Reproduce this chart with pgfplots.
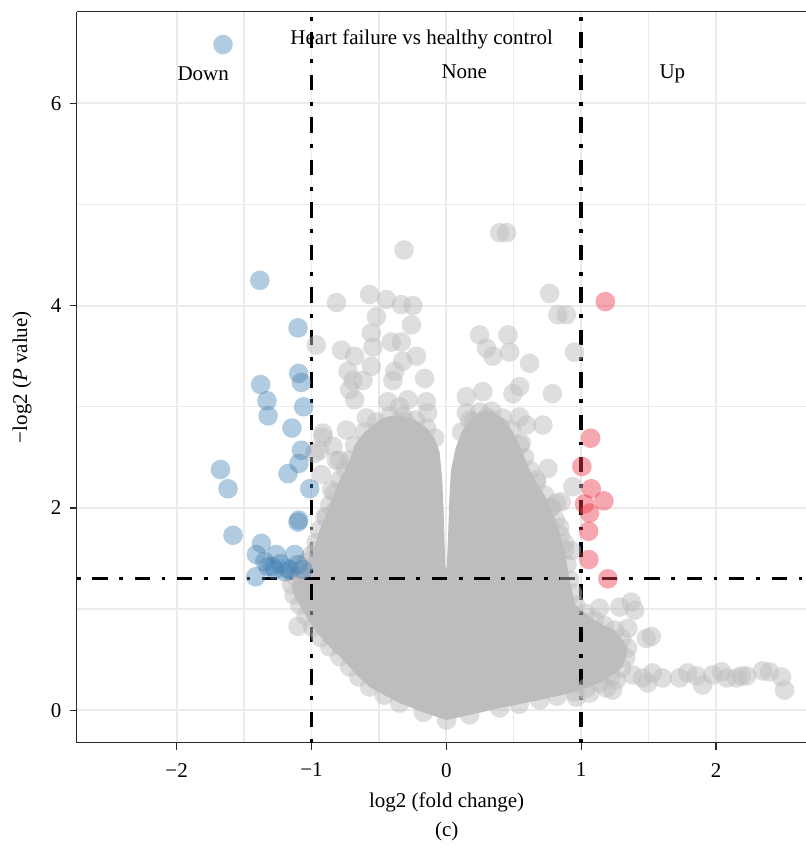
\documentclass[border=0pt]{standalone}
\usepackage{fontspec}
\setmainfont{Liberation Serif}
\usepackage{pgfplots}
\pgfplotsset{compat=1.18}
\definecolor{ptgray}{RGB}{191,188,191}
\definecolor{ptblue}{RGB}{70,130,180}
\definecolor{ptred}{RGB}{238,60,78}
\definecolor{gridc}{RGB}{235,235,235}
\definecolor{axc}{RGB}{40,40,40}

% dense region outline (log2 FC, -log10 P)
\pgfplotstableread{
x y
0.002 -0.096
-0.17 -0.02
-0.346 0.072
-0.46 0.15
-0.569 0.230
-0.65 0.33
-0.717 0.428
-0.79 0.53
-0.865 0.626
-0.93 0.72
-0.991 0.823
-1.04 0.93
-1.087 1.041
-1.13 1.14
-1.147 1.239
-1.12 1.32
-1.087 1.387
-1.04 1.46
-0.998 1.535
-0.965 1.66
-0.939 1.782
-0.90 1.91
-0.865 2.030
-0.83 2.15
-0.791 2.277
-0.75 2.38
-0.717 2.474
-0.680 2.622
-0.606 2.751
-0.517 2.850
-0.420 2.909
-0.324 2.909
-0.228 2.869
-0.146 2.790
-0.087 2.691
-0.050 2.553
-0.030 2.276
-0.018 1.881
-0.008 1.436
0.002 1.387
0.012 1.683
0.022 2.079
0.035 2.375
0.069 2.593
0.113 2.751
0.173 2.869
0.247 2.948
0.336 2.958
0.417 2.889
0.484 2.771
0.543 2.622
0.58 2.50
0.618 2.375
0.67 2.25
0.729 2.128
0.77 2.00
0.810 1.881
0.845 1.73
0.877 1.584
0.895 1.44
0.914 1.288
0.935 1.16
0.958 1.041
1.03 0.96
1.099 0.893
1.17 0.84
1.248 0.794
1.30 0.71
1.344 0.616
1.33 0.52
1.300 0.418
1.22 0.34
1.136 0.270
1.04 0.22
0.951 0.181
0.82 0.14
0.692 0.102
0.54 0.06
0.395 0.023
0.173 -0.046
}\dense

% edge points of the dense cloud
\pgfplotstableread{
x y
0.002 -0.096
-0.17 -0.02
-0.346 0.072
-0.46 0.15
-0.569 0.230
-0.65 0.33
-0.717 0.428
-0.79 0.53
-0.865 0.626
-0.93 0.72
-0.991 0.823
-1.04 0.93
-1.087 1.041
-1.13 1.14
-1.147 1.239
-1.12 1.32
-1.087 1.387
-1.04 1.46
-0.998 1.535
-0.965 1.66
-0.939 1.782
-0.90 1.91
-0.865 2.030
-0.83 2.15
-0.791 2.277
-0.75 2.38
-0.717 2.474
-0.680 2.622
-0.606 2.751
-0.517 2.850
-0.420 2.909
-0.324 2.909
-0.228 2.869
-0.146 2.790
-0.087 2.691
0.113 2.751
0.173 2.869
0.247 2.948
0.336 2.958
0.417 2.889
0.484 2.771
0.543 2.622
0.58 2.50
0.618 2.375
0.67 2.25
0.729 2.128
0.77 2.00
0.810 1.881
0.845 1.73
0.877 1.584
0.895 1.44
0.914 1.288
0.935 1.16
0.958 1.041
1.03 0.96
1.099 0.893
1.17 0.84
1.248 0.794
1.30 0.71
1.344 0.616
1.33 0.52
1.300 0.418
1.22 0.34
1.136 0.270
1.04 0.22
0.951 0.181
0.82 0.14
0.692 0.102
0.54 0.06
0.395 0.023
0.173 -0.046
}\edge

% scattered grey (not significant) points
\pgfplotstableread{
x y
-0.314 4.55
0.395 4.72
0.447 4.72
-0.815 4.03
-0.569 4.11
-0.445 4.06
-0.334 4.01
-0.248 4.00
-0.519 3.89
-0.259 3.81
-0.556 3.73
-0.408 3.64
-0.334 3.64
-0.964 3.61
-0.778 3.56
-0.680 3.50
-0.544 3.59
-0.222 3.50
-0.324 3.45
-0.556 3.40
-0.729 3.35
-0.383 3.35
-0.161 3.28
-0.618 3.26
-0.692 3.26
-0.396 3.26
-0.717 3.17
-0.680 3.07
-0.433 3.05
-0.285 3.07
-0.148 3.05
-0.139 2.94
-0.346 3.00
-0.593 2.89
-0.915 2.70
-0.741 2.77
-0.841 2.61
-0.976 2.54
0.247 3.71
0.297 3.58
0.345 3.50
0.148 3.10
0.271 3.15
0.148 2.94
0.766 4.12
0.827 3.91
0.890 3.91
0.457 3.71
0.469 3.54
0.951 3.54
0.617 3.43
0.494 3.13
0.543 3.20
0.786 3.13
0.543 2.90
0.593 2.82
0.716 2.82
0.556 2.64
0.753 2.39
0.938 2.21
0.852 2.06
0.778 2.01
0.877 1.65
0.927 1.58
0.815 2.05
1.136 1.01
1.285 1.02
1.371 1.07
1.396 0.99
1.346 0.81
1.483 0.71
1.520 0.73
1.233 0.63
1.260 0.30
0.964 0.13
1.062 0.17
1.186 0.22
1.381 0.35
1.455 0.32
1.529 0.37
1.603 0.32
1.729 0.32
1.789 0.37
1.855 0.34
1.900 0.25
1.974 0.35
2.041 0.38
2.078 0.32
2.152 0.32
2.189 0.34
2.226 0.34
2.345 0.39
2.397 0.38
2.486 0.33
2.508 0.20
1.492 0.27
1.233 0.20
-0.915 2.74
-0.939 2.57
-0.927 2.33
-0.852 2.18
-0.890 1.91
-0.791 2.47
-0.964 1.58
-1.100 0.83
-0.815 2.47
-0.828 1.97
0.667 2.28
0.840 1.81
-0.45 2.80
-0.30 2.85
-0.52 2.70
0.20 2.85
0.30 2.90
0.40 2.80
-0.60 2.55
}\grey

% down-regulated
\pgfplotstableread{
x y
-1.656 6.58
-1.383 4.25
-1.100 3.78
-1.095 3.33
-1.075 3.24
-1.377 3.22
-1.330 3.06
-1.322 2.91
-1.058 3.00
-1.145 2.79
-1.075 2.57
-1.093 2.44
-1.174 2.34
-1.013 2.19
-1.675 2.38
-1.619 2.19
-1.100 1.86
-1.095 1.88
-1.582 1.73
-1.371 1.65
-1.408 1.54
-1.347 1.47
-1.260 1.54
-1.125 1.54
-1.273 1.39
-1.199 1.37
-1.100 1.44
-1.063 1.39
-1.414 1.32
-1.322 1.42
-1.162 1.39
-1.293 1.42
-1.230 1.45
-1.180 1.40
}\down

% up-regulated
\pgfplotstableread{
x y
1.179 4.04
1.070 2.69
1.005 2.41
1.075 2.19
1.168 2.07
1.025 2.04
1.062 1.95
1.055 1.77
1.057 1.49
1.198 1.30
}\up

\begin{document}
\fontsize{10.5pt}{12.6pt}\selectfont
\begin{tikzpicture}
\begin{axis}[
  scale only axis, width=364.65pt, height=365.5pt,
  xmin=-2.741, xmax=2.667, ymin=-0.32, ymax=6.905,
  axis lines=left, axis line style={-, axc, line width=0.7pt},
  xtick={-2,-1,0,1,2}, xticklabels={−2,−1,0,1,2},
  ytick={0,2,4,6}, yticklabels={0,2,4,6},
  minor x tick num=1, minor y tick num=1,
  tick align=outside, major tick length=3.5pt, minor tick length=0pt,
  tick style={axc, line width=0.7pt},
  grid=both,
  major grid style={gridc, line width=0.9pt},
  minor grid style={gridc, line width=0.7pt},
  xticklabel style={yshift=-3pt},
  yticklabel style={xshift=-0.5pt},
  xlabel={log2 (fold change)},
  xlabel style={at={(axis description cs:0.5073,-0.0811)}, anchor=center},
  ylabel={−log2 (\textit{P} value)},
  ylabel style={at={(axis description cs:-0.075,0.5)}, anchor=center},
  clip=true,
]
\addplot[fill=ptgray, draw=none, forget plot] table {\dense} -- cycle;
\addplot[only marks, mark=*, mark size=4.9pt, color=ptgray, fill opacity=0.5, draw opacity=0] table {\edge};
\addplot[only marks, mark=*, mark size=4.9pt, color=ptgray, fill opacity=0.5, draw opacity=0] table {\grey};
\addplot[only marks, mark=*, mark size=4.9pt, color=ptblue, fill opacity=0.42, draw opacity=0] table {\down};
\addplot[only marks, mark=*, mark size=4.9pt, color=ptred, fill opacity=0.45, draw opacity=0] table {\up};
\addplot[black, line width=1.8pt, dash pattern=on 1.93pt off 5.8pt on 7.7pt off 5.8pt] coordinates {(-1,-0.32) (-1,6.905)};
\addplot[black, line width=1.8pt, dash pattern=on 1.93pt off 5.8pt on 7.7pt off 5.8pt] coordinates {(1,-0.32) (1,6.905)};
\addplot[black, line width=1.8pt, dash pattern=on 1.93pt off 5.8pt on 7.7pt off 5.8pt] coordinates {(-2.741,1.301) (2.667,1.301)};
\node[anchor=base] at (axis cs:-0.183,6.576) {Heart failure vs healthy control};
\node[anchor=base] at (axis cs:-1.803,6.22) {Down};
\node[anchor=base] at (axis cs:0.133,6.247) {None};
\node[anchor=base] at (axis cs:1.676,6.247) {Up};
\draw[axc, line width=0.7pt] (rel axis cs:0,1) -- (rel axis cs:1,1);
\end{axis}
\node[anchor=center] at ([xshift=185pt, yshift=-44.5pt]current axis.south west) {(c)};
\pgfresetboundingbox
\path ([xshift=-38.35pt, yshift=-53.65pt]current axis.south west) rectangle ++(403pt,425pt);
\end{tikzpicture}
\end{document}
